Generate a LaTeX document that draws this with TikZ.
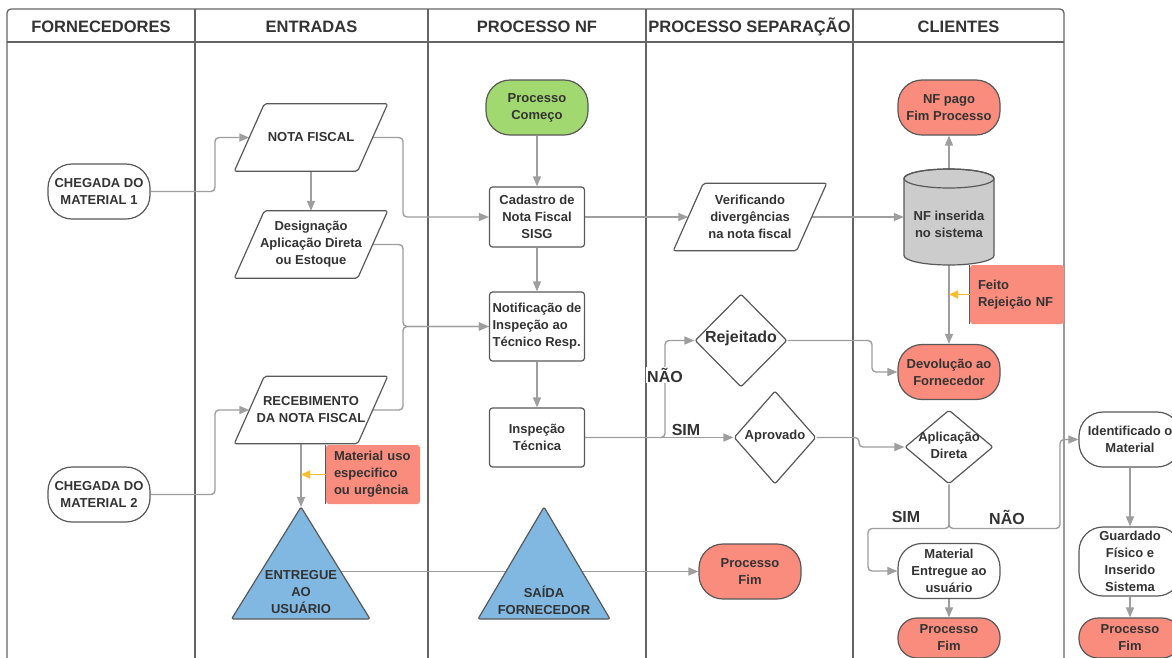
\documentclass[tikz,border=0pt]{standalone}
\usepackage{fontspec}
\setmainfont{Liberation Sans}
\usetikzlibrary{shapes.geometric,arrows.meta}
\pgfdeclarelayer{bg}
\pgfsetlayers{bg,main}
\definecolor{txt}{RGB}{51,51,51}
\definecolor{bord}{RGB}{88,88,88}
\definecolor{lanec}{RGB}{100,100,100}
\definecolor{conc}{RGB}{158,158,158}
\definecolor{salmon}{RGB}{250,140,125}
\definecolor{greenf}{RGB}{162,216,112}
\definecolor{bluef}{RGB}{128,184,226}
\definecolor{cylf}{RGB}{204,204,204}
\definecolor{yel}{RGB}{248,190,48}
\tikzset{
  base/.style={font=\bfseries\fontsize{13}{17}\selectfont, text=txt, align=center, inner sep=0pt},
  head/.style={font=\bfseries\fontsize{16.5}{19}\selectfont, text=txt, inner sep=0pt, text height=12pt, text depth=3pt},
  lbl/.style={font=\bfseries\fontsize{16}{19}\selectfont, text=txt, inner sep=1pt},
  shp/.style={draw=bord, line width=1.2pt},
  term/.style={base, shp, rounded corners=24pt, minimum width=102pt, minimum height=55pt},
  proc/.style={base, shp, rounded corners=3pt, minimum width=95pt},
  dia/.style={shp, diamond, inner sep=0pt, rounded corners=2pt},
  paratext/.style={base, minimum width=123pt, minimum height=67pt},
  note/.style={base, fill=salmon, rounded corners=3pt, minimum width=94pt, minimum height=59pt, text width=78pt, align=left},
  lane/.style={draw=lanec, line width=1.3pt},
  con/.style={draw=conc, line width=1.4pt, rounded corners=4pt},
  arr/.style={con, -{Triangle[length=10pt,width=8pt]}},
  arry/.style={draw=yel, line width=1.8pt, -{Triangle[length=9pt,width=8pt]}},
}
\begin{document}
\begin{tikzpicture}[x=1pt,y=-1pt]
\useasboundingbox (0,0) rectangle (1172,657);
\node[head] (h1) at (101,28) {FORNECEDORES};
\node[head] (h2) at (311.5,28) {ENTRADAS};
\node[head] (h3) at (537,28) {PROCESSO NF};
\node[head] (h4) at (749.5,28) {PROCESSO SEPARAÇÃO};
\node[head] (h5) at (958.5,28) {CLIENTES};

% Fornecedores
\node[term] (ch1) at (99,191.5) {CHEGADA DO\\MATERIAL 1};
\node[term] (ch2) at (99,494.5) {CHEGADA DO\\MATERIAL 2};

% Entradas
\node[paratext] (nota) at (311,137.5) {NOTA FISCAL};
\node[paratext] (desig) at (311,244.5) {Designação\\Aplicação Direta\\ou Estoque};
\node[paratext] (receb) at (311,410) {RECEBIMENTO\\DA NOTA FISCAL};
\node[paratext] (verif) at (750,217) {Verificando\\divergências\\na nota fiscal};
\foreach \n in {nota,desig,receb,verif} {
  \draw[shp, rounded corners=2pt] ([xshift=-15pt]\n.south west) -- ([xshift=-15pt]\n.south east) -- ([xshift=15pt]\n.north east) -- ([xshift=15pt]\n.north west) -- cycle;
}
\node[note] (uso) at (373,474.5) {Material uso\\especifico\\ou urgência};
\draw[draw=bord, line width=1.2pt] (uso.north west) -- (uso.south west);
\coordinate (entTop) at (301,507);
\filldraw[shp, fill=bluef, rounded corners=2pt] (entTop) -- (370,619) -- (231.5,619) -- cycle;
\node[base] (entregue) at (301,592) {ENTREGUE\\AO\\USUÁRIO};

% Processo NF
\node[term, fill=greenf] (ini) at (537,107.5) {Processo\\Começo};
\node[proc, minimum height=60pt] (cad) at (537,217) {Cadastro de\\Nota Fiscal\\SISG};
\node[proc, minimum height=69pt, align=left] (notif) at (537,326.5) {Notificação de\\Inspeção ao\\Técnico Resp.};
\node[proc, minimum height=59pt] (insp) at (537,437.5) {Inspeção\\Técnica};
\filldraw[shp, fill=bluef, rounded corners=2pt] (544,507) -- (610,619) -- (478,619) -- cycle;
\node[base] (saida) at (544,600.5) {SAÍDA\\FORNECEDOR};

% Processo separacao
\node[dia, minimum width=92pt, minimum height=93pt] (rej) at (741,340.5) {};
\node[base, font=\bfseries\fontsize{16}{19}\selectfont] (rejT) at (741,338) {Rejeitado};
\node[dia, minimum width=82pt, minimum height=93pt] (aprov) at (775,437.5) {};
\node[base] (aprovT) at (775,436) {Aprovado};
\node[term, fill=salmon] (pfim1) at (750,571.5) {Processo\\Fim};

% Clientes
\node[term, fill=salmon] (pago) at (949,107.5) {NF pago\\Fim Processo};
\node[inner sep=0pt, minimum width=90pt, minimum height=96pt] (nfins) at (949,217) {};
\filldraw[shp, fill=cylf] (904,178.5) -- (904,255.5) arc[start angle=180, end angle=0, x radius=45, y radius=9.5] -- (994,178.5) arc[start angle=0, end angle=-180, x radius=45, y radius=9.5] -- cycle;
\draw[shp] (949,178.5) ellipse[x radius=45, y radius=9.5];
\node[base] (nfinsT) at (949,224.5) {NF inserida\\no sistema};
\node[note] (feito) at (1017,294.5) {Feito\\Rejeição NF};
\draw[draw=bord, line width=1.2pt] (feito.north west) -- (feito.south west);
\node[term, fill=salmon] (dev) at (949,372) {Devolução ao\\Fornecedor};
\node[dia, minimum width=88pt, minimum height=74pt] (apl) at (949,447) {};
\node[base] (aplT) at (949,445) {Aplicação\\Direta};
\node[term] (mat) at (949,571) {Material\\Entregue ao\\usuário};
\node[term, fill=salmon, minimum height=40pt, rounded corners=19pt] (pfim2) at (949,638) {Processo\\Fim};

% Outside
\node[term] (ident) at (1130,439.5) {Identificado o\\Material};
\node[term, minimum height=69pt] (guard) at (1130,561.5) {Guardado\\Físico e\\Inserido\\Sistema};
\node[term, fill=salmon, minimum height=40pt, rounded corners=19pt] (pfim3) at (1130,638) {Processo\\Fim};

% labels
\node[lbl, fill=white] (nao1) at (665,375) {NÃO};
\node[lbl] (sim1) at (686,430) {SIM};
\node[lbl] (sim2) at (906,517) {SIM};
\node[lbl] (nao2) at (1007,517) {NÃO};

\begin{pgfonlayer}{bg}
\fill[white] (0,0) rectangle (1172,657);
% frame and lanes
\draw[lane, rounded corners=4pt] (7,660) -- (7,9) -- (1064,9) -- (1064,660);
\draw[lane] (7,42) -- (1064,42);
\foreach \lx in {195,428,646,853} {\draw[lane] (\lx,9) -- (\lx,660);}
% connectors
\draw[arr] (ch1.east) -- (215,191.5) |- (nota.west);
\draw[arr] (ch2.east) -- (215,494.5) |- (receb.west);
\draw[arr] (nota.south) -- (desig.north);
\draw[arr] (nota.east) -- (403,137.5) |- (cad.west);
\draw[arr] (desig.east) -- (403,244.5) |- (notif.west);
\draw[arr] (receb.east) -- (403,410) |- (notif.west);
\draw[arr] (entTop |- receb.south) -- (entTop);
\draw[arr] (entregue |- pfim1.west) -- (pfim1.west);
\draw[arr] (ini) -- (cad);
\draw[arr] (cad) -- (notif);
\draw[arr] (notif) -- (insp);
\draw[arr] (cad.east) -- (verif.west);
\draw[arr] (verif.east) -- (nfins.west);
\draw[arr] (nfins.north) -- (pago.south);
\draw[arr] (nfins.south) -- (dev.north);
\draw[arr] (insp.east) -- (aprov.west);
\draw[arr] (insp.east) -- (665,437.5) |- (rej.west);
\draw[arr] (rej.east) -- (872,340.5) |- (dev.west);
\draw[arr] (aprov.east) -- (859,437.5) |- (apl.west);
\draw[arr] (apl.south) -- (949,528.5) -- (868,528.5) |- (mat.west);
\draw[arr] (apl.south) -- (949,528.5) -- (1060,528.5) |- (ident.west);
\draw[arr] (mat) -- (pfim2);
\draw[arr] (ident) -- (guard);
\draw[arr] (guard) -- (pfim3);
\end{pgfonlayer}
\draw[arry] (feito.west) -- (feito.west -| nfins.south);
\draw[arry] (uso.west) -- (uso.west -| entTop);
\end{tikzpicture}
\end{document}
